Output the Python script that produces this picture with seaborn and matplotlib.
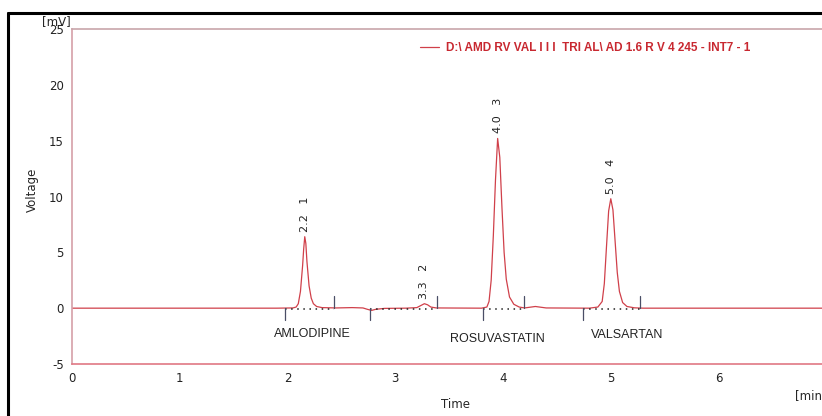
import matplotlib
matplotlib.use("Agg")
import matplotlib.pyplot as plt
import seaborn as sns
import pandas as pd
from matplotlib.lines import Line2D

# ---- data ----
time_min = [0.00, 1.90, 2.05, 2.08, 2.10, 2.12, 2.14, 2.15, 2.16, 2.17, 2.18, 2.20, 2.22,
            2.24, 2.27, 2.32, 2.45, 2.60, 2.70, 2.74, 2.78, 2.82, 2.90, 3.10, 3.20, 3.24,
            3.27, 3.30, 3.33, 3.38, 3.80, 3.85, 3.87, 3.89, 3.91, 3.93, 3.95, 3.97, 3.99,
            4.01, 4.03, 4.06, 4.10, 4.15, 4.20, 4.30, 4.40, 4.80, 4.88, 4.92, 4.94, 4.96,
            4.98, 5.00, 5.02, 5.04, 5.06, 5.08, 5.11, 5.15, 5.22, 5.30, 6.96]
voltage_mv = [0.00, 0.00, 0.02, 0.10, 0.40, 1.50, 3.80, 5.30, 6.40, 5.80, 4.20, 2.00, 0.90,
              0.40, 0.15, 0.05, 0.02, 0.05, 0.02, -0.10, -0.20, -0.10, -0.02, 0.00, 0.05, 0.25,
              0.40, 0.30, 0.10, 0.02, 0.00, 0.10, 0.60, 2.50, 6.50, 11.50, 15.20, 13.50, 9.00,
              5.00, 2.60, 1.00, 0.35, 0.10, 0.02, 0.15, 0.02, 0.00, 0.10, 0.60, 2.20, 5.50,
              8.70, 9.80, 8.80, 6.00, 3.20, 1.50, 0.50, 0.15, 0.03, 0.00, 0.00]

peak_rt = [2.16, 3.27, 3.95, 5.00]
peak_height = [6.4, 0.4, 15.2, 9.8]
peak_rt_label = ["2.2", "3.3", "4.0", "5.0"]
peak_number = ["1", "2", "3", "4"]
peak_start = [1.98, 2.77, 3.81, 4.74]
peak_end = [2.43, 3.39, 4.19, 5.27]

compound_names = ["AMLODIPINE", "ROSUVASTATIN", "VALSARTAN"]
compound_x = [2.23, 3.95, 5.15]
compound_y = [-2.3, -2.8, -2.4]

legend_label = "D:\\ AMD RV VAL I I I  TRI AL\\ AD 1.6 R V 4 245 - INT7 - 1"
x_ticks = [0, 1, 2, 3, 4, 5, 6]
y_ticks = [-5, 0, 5, 10, 15, 20, 25]

# ---- plotting ----
sns.set_style("white")
plt.rcParams["font.family"] = ["DejaVu Sans"]
plt.rcParams["axes.unicode_minus"] = False

W, H = 822, 416
fig = plt.figure(figsize=(W / 100, H / 100), dpi=100)
ax = fig.add_axes([72 / W, 1 - 364 / H, 1 - 72 / W, (364 - 29) / H])

df = pd.DataFrame({"Time": time_min, "Voltage": voltage_mv})
line_color = "#d0404a"
sns.lineplot(data=df, x="Time", y="Voltage", ax=ax, color=line_color,
             linewidth=0.9, estimator=None, sort=False, legend=False)

ax.set_xlim(0, 6.96)
ax.set_ylim(-5, 25)
ax.set_xticks(x_ticks)
ax.set_yticks(y_ticks)
ax.set_xlabel("")
ax.set_ylabel("")

# baselines and integration markers
mark_color = "#4a4e66"
for s, e in zip(peak_start, peak_end):
    ax.plot([s, e], [-0.05, -0.05], linestyle=(0, (1, 3)), color="#222222", linewidth=1.1)
    ax.plot([s, s], [0, -1.1], color=mark_color, linewidth=0.9)
    ax.plot([e, e], [0, 1.1], color=mark_color, linewidth=0.9)

# peak annotations
for rt, h, lab, num in zip(peak_rt, peak_height, peak_rt_label, peak_number):
    ax.text(rt, h + 0.45, f"{lab}   {num}", rotation=90, ha="center", va="bottom",
            fontsize=8, color="#222222", family="DejaVu Sans")

for name, x, y in zip(compound_names, compound_x, compound_y):
    ax.text(x, y, name, ha="center", va="center", fontsize=9, color="#222222",
            family="Liberation Sans")

# spines
for side in ["top", "left", "bottom"]:
    ax.spines[side].set_visible(True)
ax.spines["right"].set_visible(False)
ax.spines["top"].set_color("#c8a6aa")
ax.spines["left"].set_color("#d6a0a8")
ax.spines["bottom"].set_color("#e07884")
for sp in ax.spines.values():
    sp.set_linewidth(1.2)

ax.tick_params(axis="both", which="both", direction="out", length=4, width=1,
               colors="#222222", labelsize=8.5, pad=2)
ax.tick_params(axis="y", color="#d6a0a8")
ax.tick_params(axis="x", color="#e07884")

# legend
handle = Line2D([0], [0], color=line_color, linewidth=0.9)
leg = ax.legend([handle], [legend_label], loc="upper left", bbox_to_anchor=((415 - 72) / (W - 72), 0.975),
                frameon=False, handlelength=1.6, handletextpad=0.6,
                borderaxespad=0, prop={"family": "Liberation Sans", "weight": "bold", "size": 8.5})
for t in leg.get_texts():
    t.set_color("#c82830")

# figure texts
fig.text(32 / W, 1 - 190 / H, "Voltage", rotation=90, ha="center", va="center", fontsize=8.5)
fig.text(455 / W, 1 - 405 / H, "Time", ha="center", va="center", fontsize=8.5)
fig.text(795 / W, 1 - 396 / H, "[min.]", ha="left", va="center", fontsize=8.5)
fig.text(42 / W, 1 - 22 / H, "[mV]", ha="left", va="center", fontsize=8.5)

# screenshot frame
fig.add_artist(Line2D([8 / W, 1], [1 - 13 / H, 1 - 13 / H], color="black", linewidth=2.2))
fig.add_artist(Line2D([8 / W, 8 / W], [0, 1 - 13 / H], color="black", linewidth=2.2))

fig.savefig("out.png", dpi=100)
